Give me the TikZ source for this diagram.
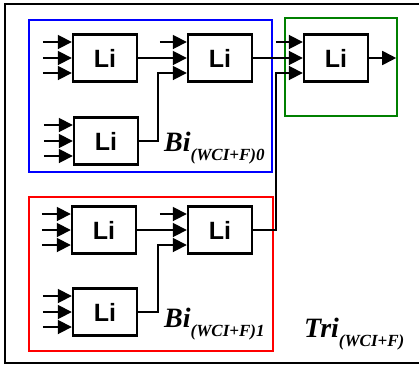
\documentclass[tikz,border=0pt]{standalone}
\usepackage{fontspec}
\setmainfont{Liberation Serif}
\newfontfamily\lisans{Liberation Sans}
\usetikzlibrary{positioning, arrows.meta, calc}

\tikzset{
  libox/.style={draw,line width=2.4pt,minimum width=64pt,minimum height=47pt,inner sep=0pt,font=\lisans\bfseries\fontsize{25}{27}\selectfont},
  wire/.style={line width=1.8pt},
  inarrow/.style={wire,-{Triangle[length=14pt,width=14pt]}},
  grp/.style={line width=2pt},
  grplabel/.style={anchor=base west,inner sep=0pt,font=\bfseries\itshape\fontsize{28}{30}\selectfont}
}
\newcommand{\grpsub}[1]{\raisebox{-9pt}{\fontsize{17}{18}\selectfont #1}}

\begin{document}
\begin{tikzpicture}[x=1pt,y=-1pt]
    \useasboundingbox (0,0) rectangle (419,367);
    % outer frame
    \draw[line width=2pt] (419,4) -- (5,4) -- (5,363) -- (419,363);
    % groups
    \draw[grp,blue] (29,20) rectangle (272,172);
    \draw[grp,green!50!black] (285,18) rectangle (397,116);
    \draw[grp,red] (29,197) rectangle (273,351);
    % Li blocks
    \node[libox] (b-1) at (105,58) {Li};
    \node[libox] (b-2) at (106,141) {Li};
    \node[libox] (b-3) at (220,58) {Li};
    \node[libox] (r-1) at (104,230) {Li};
    \node[libox] (r-2) at (105,312) {Li};
    \node[libox] (r-3) at (220,230) {Li};
    \node[libox] (t-1) at (336,58) {Li};
    % input points
    \foreach \b in {b-1,b-2,b-3,r-1,r-2,r-3,t-1} {
        \coordinate (\b-i1) at ($(\b.west)+(0,-16)$);
        \coordinate (\b-i2) at (\b.west);
        \coordinate (\b-i3) at ($(\b.west)+(0,15)$);
    }
    % free inputs
    \foreach \b in {b-1,b-2,r-1,r-2} {
        \foreach \i in {1,2,3} {
            \coordinate (\b-s\i) at ($(\b-i\i)+(-29,0)$);
            \draw[inarrow] (\b-s\i) -- (\b-i\i);
        }
    }
    \foreach \b in {b-3,r-3,t-1} {
        \coordinate (\b-s1) at ($(\b-i1)+(-27,0)$);
        \draw[inarrow] (\b-s1) -- (\b-i1);
    }
    % links
    \draw[inarrow] (b-1.east) -- (b-3-i2);
    \draw[inarrow] (b-2.east) -- ++(19,0) |- (b-3-i3);
    \draw[inarrow] (r-1.east) -- (r-3-i2);
    \draw[inarrow] (r-2.east) -- ++(20,0) |- (r-3-i3);
    \draw[inarrow] (b-3.east) -- (t-1-i2);
    \draw[inarrow] (r-3.east) -- ++(23,0) |- (t-1-i3);
    \coordinate (t-out) at ($(t-1.east)+(27,0)$);
    \draw[inarrow] (t-1.east) -- (t-out);
    % labels
    \node[grplabel] (bi-0) at (164,151) {Bi\grpsub{(WCI+F)0}};
    \node[grplabel] (bi-1) at (164,327) {Bi\grpsub{(WCI+F)1}};
    \node[grplabel] (tri) at (304,337) {Tri\grpsub{(WCI+F)}};
\end{tikzpicture}
\end{document}
